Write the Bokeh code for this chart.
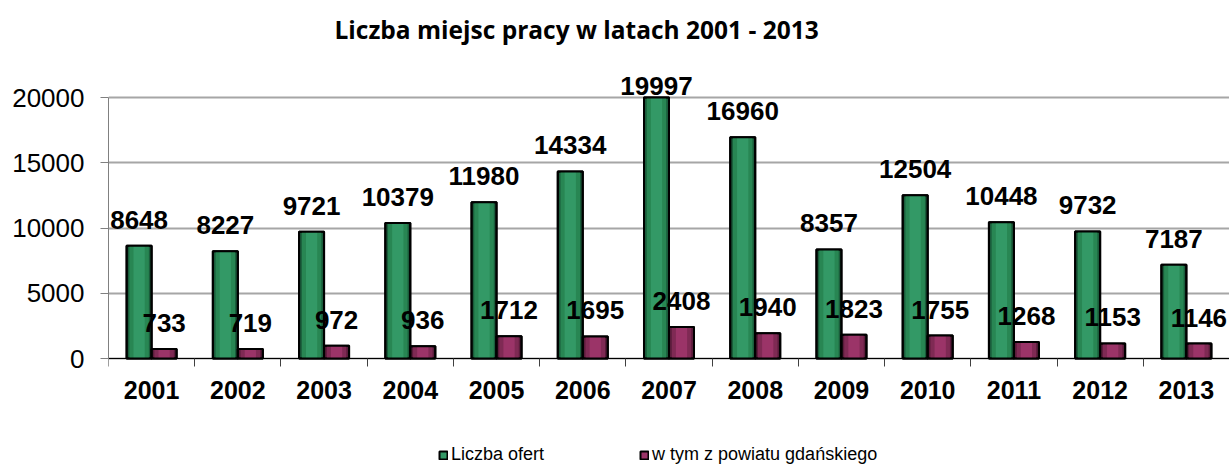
import numpy as np
from bokeh.plotting import figure
from bokeh.models import (ColumnDataSource, FixedTicker, Range1d, LabelSet,
                          Legend, LegendItem, Title)
from bokeh.core.properties import value
from bokeh.embed import file_html
from bokeh.resources import INLINE

# ---- data ----
years = ["2001", "2002", "2003", "2004", "2005", "2006", "2007",
         "2008", "2009", "2010", "2011", "2012", "2013"]
offers = [8648, 8227, 9721, 10379, 11980, 14334, 19997,
          16960, 8357, 12504, 10448, 9732, 7187]
gdansk = [733, 719, 972, 936, 1712, 1695, 2408,
          1940, 1823, 1755, 1268, 1153, 1146]
y_ticks = [0, 5000, 10000, 15000, 20000]
series_names = ["Liczba ofert", "w tym z powiatu gdańskiego"]
title_text = "Liczba miejsc pracy w latach 2001 - 2013"

# ---- layout constants ----
W, H = 1229, 465
B_LEFT, B_TOP = 108, 60
FRAME_H = H - B_TOP           # frame reaches the bottom edge
ZERO_FROM_BOTTOM = 107        # px between value 0 and the bottom edge
GRID_H = 261                  # px spanned by 0..20000
Y_MAX = 20000
PX = Y_MAX / GRID_H           # data units per pixel (vertical)
Y_START = -ZERO_FROM_BOTTOM * PX
Y_TOP = Y_START + FRAME_H * PX
BW = 0.29                     # bar width (category units)
OFF = 0.145                   # dodge of each bar from category centre
LABEL_GAP = 17                # px between bar top and its label

n = len(years)
idx = np.arange(n)
offers_a = np.array(offers, dtype=float)
gdansk_a = np.array(gdansk, dtype=float)

src = ColumnDataSource(dict(
    x1=idx - OFF, x2=idx + OFF,
    offers=offers_a, gdansk=gdansk_a,
    t1=[str(v) for v in offers], t2=[str(v) for v in gdansk],
    y1=np.minimum(offers_a + LABEL_GAP * PX, Y_MAX + 3 * PX),
    y2=np.minimum(gdansk_a + LABEL_GAP * PX, Y_MAX + 3 * PX),
))

p = figure(width=W, height=H, output_backend="svg", toolbar_location=None,
           x_range=Range1d(-0.5, n - 0.5), y_range=Range1d(Y_START, Y_TOP),
           min_border_left=B_LEFT, min_border_right=0,
           min_border_top=B_TOP, min_border_bottom=0,
           title=None)
p.outline_line_color = None
p.background_fill_color = "white"
p.border_fill_color = "white"

p.add_layout(Title(text=title_text, align="left", offset=226, standoff=25,
                   vertical_align="top",
                   text_font="Open Sans", text_font_style="bold",
                   text_font_size="24.5px", text_color="black"), "above")


def bars(xcol, top, dark, mid, light):
    p.vbar(x=xcol, top=top, bottom=0, width=BW, source=src,
           fill_color=dark, line_color="black", line_width=2)
    p.vbar(x=xcol, top=top, bottom=0, width=BW * 0.78, source=src,
           fill_color=mid, line_color=None)
    r_in = p.vbar(x=xcol, top=top, bottom=0, width=BW * 0.45, source=src,
                  fill_color=light, line_color=None)
    r_out = p.vbar(x=xcol, top=top, bottom=0, width=BW, source=src,
                   fill_color=None, line_color="black", line_width=2)
    return [r_in, r_out]


g = bars("x1", "offers", "#1a5c3b", "#288653", "#339966")
m = bars("x2", "gdansk", "#5a1c3b", "#7f2a54", "#9b3468")

label_style = dict(text_font=value("Liberation Sans"), text_font_style="bold",
                   text_font_size="26px", text_color="black",
                   text_align="center", text_baseline="alphabetic")
p.add_layout(LabelSet(x="x1", y="y1", text="t1", source=src, **label_style))
p.add_layout(LabelSet(x="x2", y="y2", text="t2", source=src, **label_style))

# ---- axes ----
p.xaxis.fixed_location = 0
p.xaxis.ticker = FixedTicker(ticks=[int(i) for i in idx],
                             minor_ticks=[float(i) - 0.5 for i in idx] + [n - 0.5])
p.xaxis.major_label_overrides = {int(i): y for i, y in zip(idx, years)}
p.xaxis.major_tick_line_color = None
p.xaxis.major_tick_out = 0
p.xaxis.major_tick_in = 0
p.xaxis.minor_tick_line_color = "#404040"
p.xaxis.minor_tick_out = 8
p.xaxis.minor_tick_in = 0
p.xaxis.axis_line_color = "black"
p.xaxis.major_label_standoff = 14
p.xaxis.major_label_text_font = "Liberation Sans"
p.xaxis.major_label_text_font_style = "bold"
p.xaxis.major_label_text_font_size = "25px"
p.xaxis.major_label_text_color = "black"

p.yaxis.ticker = FixedTicker(ticks=y_ticks)
p.yaxis.bounds = (0, Y_MAX)
p.yaxis.axis_line_color = "#808080"
p.yaxis.major_tick_line_color = "#808080"
p.yaxis.major_tick_out = 8
p.yaxis.major_tick_in = 0
p.yaxis.minor_tick_line_color = None
p.yaxis.major_label_standoff = 16
p.yaxis.major_label_text_font = "Liberation Sans"
p.yaxis.major_label_text_font_size = "26px"
p.yaxis.major_label_text_color = "black"

p.xgrid.visible = False
p.ygrid.grid_line_color = "#a6a6a6"
p.ygrid.grid_line_width = 2

legend = Legend(items=[LegendItem(label=series_names[0], renderers=g),
                       LegendItem(label=series_names[1], renderers=m)],
                location=(330, 0), orientation="horizontal",
                glyph_width=10, glyph_height=10, label_standoff=3,
                spacing=95, padding=0, margin=0,
                border_line_color=None, background_fill_alpha=0,
                label_text_font="Liberation Sans", label_text_font_size="18px",
                label_text_color="black")
p.add_layout(legend)

open("out.html", "w").write(file_html(p, INLINE))
